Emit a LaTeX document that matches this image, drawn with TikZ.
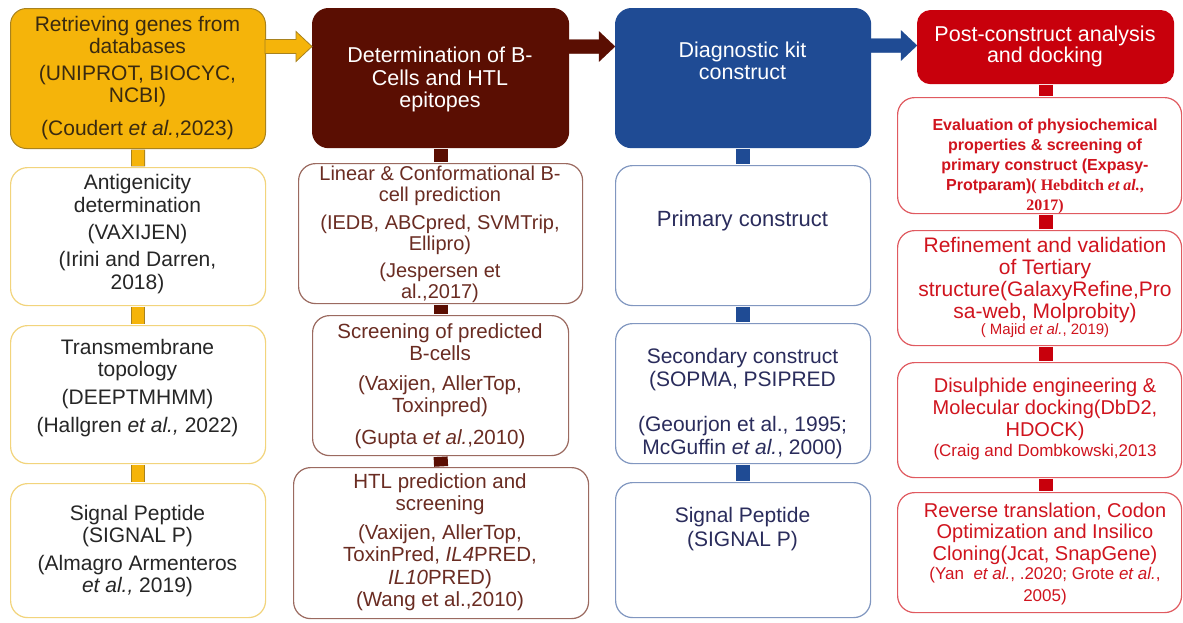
\documentclass[tikz,border=0pt]{standalone}
\usepackage{fontspec}
\setmainfont{Liberation Sans}
\newfontfamily\serifrm{Liberation Serif}
\usetikzlibrary{calc}
\definecolor{yhead}{HTML}{F5B40A}
\definecolor{yedge}{HTML}{A8821E}
\definecolor{ybord}{HTML}{F2D47C}
\definecolor{ytxt}{HTML}{3A2A10}
\definecolor{ktxt}{HTML}{262626}
\definecolor{bhead}{HTML}{5A0E02}
\definecolor{bbord}{HTML}{9B6A60}
\definecolor{btxt}{HTML}{6A2C22}
\definecolor{uhead}{HTML}{1F4B94}
\definecolor{ubord}{HTML}{8197C0}
\definecolor{utxt}{HTML}{2A2C5C}
\definecolor{rhead}{HTML}{C8000C}
\definecolor{rbord}{HTML}{E05A60}
\definecolor{rtxt}{HTML}{D0141E}
\newcommand\fatarrow[3]{\filldraw[#3] ($(#1)+(0,-7)$) -- ($(#2)+(-16,-7)$) -- ($(#2)+(-16,-15)$) -- (#2) -- ($(#2)+(-16,15)$) -- ($(#2)+(-16,7)$) -- ($(#1)+(0,7)$) -- cycle;}
\tikzset{
  boxbase/.style={rectangle, rounded corners=17pt, inner sep=0pt, anchor=north west, line width=1.2pt},
  headbox/.style={boxbase, rounded corners=16pt},
  ybox/.style={boxbase, draw=ybord, fill=white},
  bbox/.style={boxbase, draw=bbord, fill=white},
  ubox/.style={boxbase, draw=ubord, fill=white},
  rbox/.style={boxbase, draw=rbord, fill=white},
  txt/.style={align=center, inner sep=0pt, font=\fontsize{21}{22}\selectfont},
  ytx/.style={txt, text=ktxt},
  btx/.style={txt, text=btxt, font=\fontsize{20}{21}\selectfont},
  utx/.style={txt, text=utxt},
  rtx/.style={txt, text=rtxt},
  link/.style={line width=14pt},
}
\begin{document}
\begin{tikzpicture}[x=1pt,y=-1pt]
\useasboundingbox (0,0) rectangle (1183,622);
\fill[white] (0,0) rectangle (1183,622);

% ---------- headers
\node[headbox, draw=yedge, fill=yhead, line width=1pt, minimum width=255pt, minimum height=140pt] (y1) at (10,8) {};
\node[headbox, draw=bhead, fill=bhead, minimum width=256pt, minimum height=139pt] (b1) at (312,8) {};
\node[headbox, draw=uhead, fill=uhead, minimum width=255pt, minimum height=139pt] (u1) at (615,8) {};
\node[headbox, rounded corners=13pt, draw=rhead, fill=rhead, minimum width=256pt, minimum height=73pt] (r1) at (917,10) {};

% ---------- column 1
\node[ybox, minimum width=255pt, minimum height=138pt] (y2) at (10,167) {};
\node[ybox, minimum width=255pt, minimum height=138pt] (y3) at (10,325) {};
\node[ybox, minimum width=255pt, minimum height=134pt] (y4) at (10,483) {};
% ---------- column 2
\node[bbox, minimum width=284pt, minimum height=140pt] (b2) at (298,163) {};
\node[bbox, minimum width=256pt, minimum height=140pt] (b3) at (312,315) {};
\node[bbox, minimum width=295pt, minimum height=151pt] (b4) at (293,467) {};
% ---------- column 3
\node[ubox, minimum width=255pt, minimum height=140pt] (u2) at (615,165) {};
\node[ubox, minimum width=255pt, minimum height=140pt] (u3) at (615,323) {};
\node[ubox, minimum width=255pt, minimum height=135pt] (u4) at (615,482) {};
% ---------- column 4
\node[rbox, minimum width=284pt, minimum height=116pt] (r2) at (897,97) {};
\node[rbox, minimum width=284pt, minimum height=115pt] (r3) at (897,230) {};
\node[rbox, minimum width=284pt, minimum height=115pt] (r4) at (897,362) {};
\node[rbox, minimum width=284pt, minimum height=120pt] (r5) at (897,492) {};

% ---------- vertical links
\foreach \a/\b in {y1/y2,y2/y3,y3/y4}{
  \draw[link, yedge] ([yshift=-0.6pt]\a.south) -- ([yshift=0.6pt]\b.north);
  \draw[line width=12pt, yhead] ([yshift=-1.2pt]\a.south) -- ([yshift=1.2pt]\b.north);
}
\foreach \a/\b in {b1/b2,b2/b3,b3/b4}{\draw[link, bhead] ([yshift=-0.6pt]\a.south) -- ([yshift=0.6pt]\b.north);}
\foreach \a/\b in {u1/u2,u2/u3,u3/u4}{\draw[link, uhead] ([yshift=-0.6pt]\a.south) -- ([yshift=0.6pt]\b.north);}
\foreach \a/\b in {r1/r2,r2/r3,r3/r4,r4/r5}{\draw[link, rhead] ([yshift=-0.6pt]r1.south |- \a.south) -- ([yshift=0.6pt]r1.south |- \b.north);}

% ---------- horizontal arrows
\coordinate (ya) at ($(y1.north east)+(-1,38.5)$);
\coordinate (yb) at ($(b1.north west)+(0,38.5)$);
\coordinate (ba) at ($(b1.north east)+(-1,38.5)$);
\coordinate (bb) at ($(u1.north west)+(0,38.5)$);
\coordinate (ua) at ($(u1.north east)+(-1,37.5)$);
\coordinate (ub) at ($(r1.north west)+(0,35.5)$);
\fatarrow{ya}{yb}{fill=yhead, draw=yedge, line width=0.8pt}
\fatarrow{ba}{bb}{fill=bhead, draw=bhead, line width=0.3pt}
\fatarrow{ua}{ub}{fill=uhead, draw=uhead, line width=0.3pt}

% ---------- header texts
\node[txt, text=ytxt] (y1t) at (137.5,78) {Retrieving genes from\\databases\\[5pt](UNIPROT, BIOCYC,\\NCBI)\\[11pt](Coudert \textit{et al.},2023)};
\node[txt, text=white, font=\fontsize{21.5}{22.5}\selectfont] (b1t) at (440,79.5) {Determination of B-\\Cells and HTL\\epitopes};
\node[txt, text=white, font=\fontsize{21.5}{22}\selectfont] (u1t) at (742.5,61) {Diagnostic kit\\construct};
\node[txt, text=white, font=\fontsize{21.5}{20}\selectfont] (r1t) at (1045,46.5) {Post-construct analysis\\and docking};

% ---------- column 1 texts
\node[ytx, font=\fontsize{21}{23}\selectfont] (y2t) at (137.5,234.5) {Antigenicity\\determination\\[4pt](VAXIJEN)\\[4pt](Irini and Darren,\\2018)};
\node[ytx] (y3t) at (137.5,388.5) {Transmembrane\\topology\\[6pt](DEEPTMHMM)\\[6pt](Hallgren \textit{et al.,} 2022)};
\node[ytx] (y4t) at (137.5,551.5) {Signal Peptide\\(SIGNAL P)\\[6pt](Almagro Armenteros\\\textit{et al.,} 2019)};

% ---------- column 2 texts
\node[btx] (b2t) at (440,234) {Linear \& Conformational B-\\cell prediction\\[7pt](IEDB, ABCpred, SVMTrip,\\Ellipro)\\[6pt](Jespersen et\\al.,2017)};
\node[btx, font=\fontsize{20.5}{22}\selectfont] (b3t) at (440,386) {Screening of predicted\\B-cells\\[8pt](Vaxijen, AllerTop,\\Toxinpred)\\[10pt](Gupta \textit{et al.},2010)};
\node[btx, font=\fontsize{20.5}{22.5}\selectfont] (b4t) at (440,542) {HTL prediction and\\screening\\[6pt](Vaxijen, AllerTop,\\ToxinPred, \textit{IL4}PRED,\\\textit{IL10}PRED)\\(Wang et al.,2010)};

% ---------- column 3 texts
\node[utx, font=\fontsize{22}{23}\selectfont] (u2t) at (742.5,221) {Primary construct};
\node[utx, font=\fontsize{21}{23.5}\selectfont] (u3t) at (742.5,403.5) {Secondary construct\\(SOPMA, PSIPRED\\[21pt](Geourjon et al., 1995;\\McGuffin \textit{et al.}, 2000)};
\node[utx, font=\fontsize{21}{24}\selectfont] (u4t) at (742.5,529.5) {Signal Peptide\\(SIGNAL P)};

% ---------- column 4 texts
\node[rtx, font=\fontsize{16}{20}\selectfont\bfseries] (r2t) at (1045,166.5) {Evaluation of physiochemical\\properties \& screening of\\primary construct (Expasy-\\Protparam){\serifrm\bfseries( Hebditch \textit{et al.},}\\{\serifrm\bfseries 2017)}};
\node[rtx, font=\fontsize{21}{22}\selectfont] (r3t) at (1045,287) {Refinement and validation\\of Tertiary\\structure(GalaxyRefine,Pro\\sa-web, Molprobity)\\[-6pt]{\fontsize{15}{16}\selectfont ( Majid \textit{et al.}, 2019)}};
\node[rtx, font=\fontsize{20}{22}\selectfont] (r4t) at (1045,419.5) {Disulphide engineering \&\\Molecular docking(DbD2,\\HDOCK)\\[-2pt]{\fontsize{17}{18}\selectfont(Craig and Dombkowski,2013}};
\node[rtx, font=\fontsize{20}{21.5}\selectfont] (r5t) at (1045,554) {Reverse translation, Codon\\Optimization and Insilico\\Cloning(Jcat, SnapGene)\\[-2pt]{\fontsize{17}{18}\selectfont(Yan~~\textit{et al.}, .2020; Grote \textit{et al.},}\\{\fontsize{17}{18}\selectfont 2005)}};
\end{tikzpicture}
\end{document}
